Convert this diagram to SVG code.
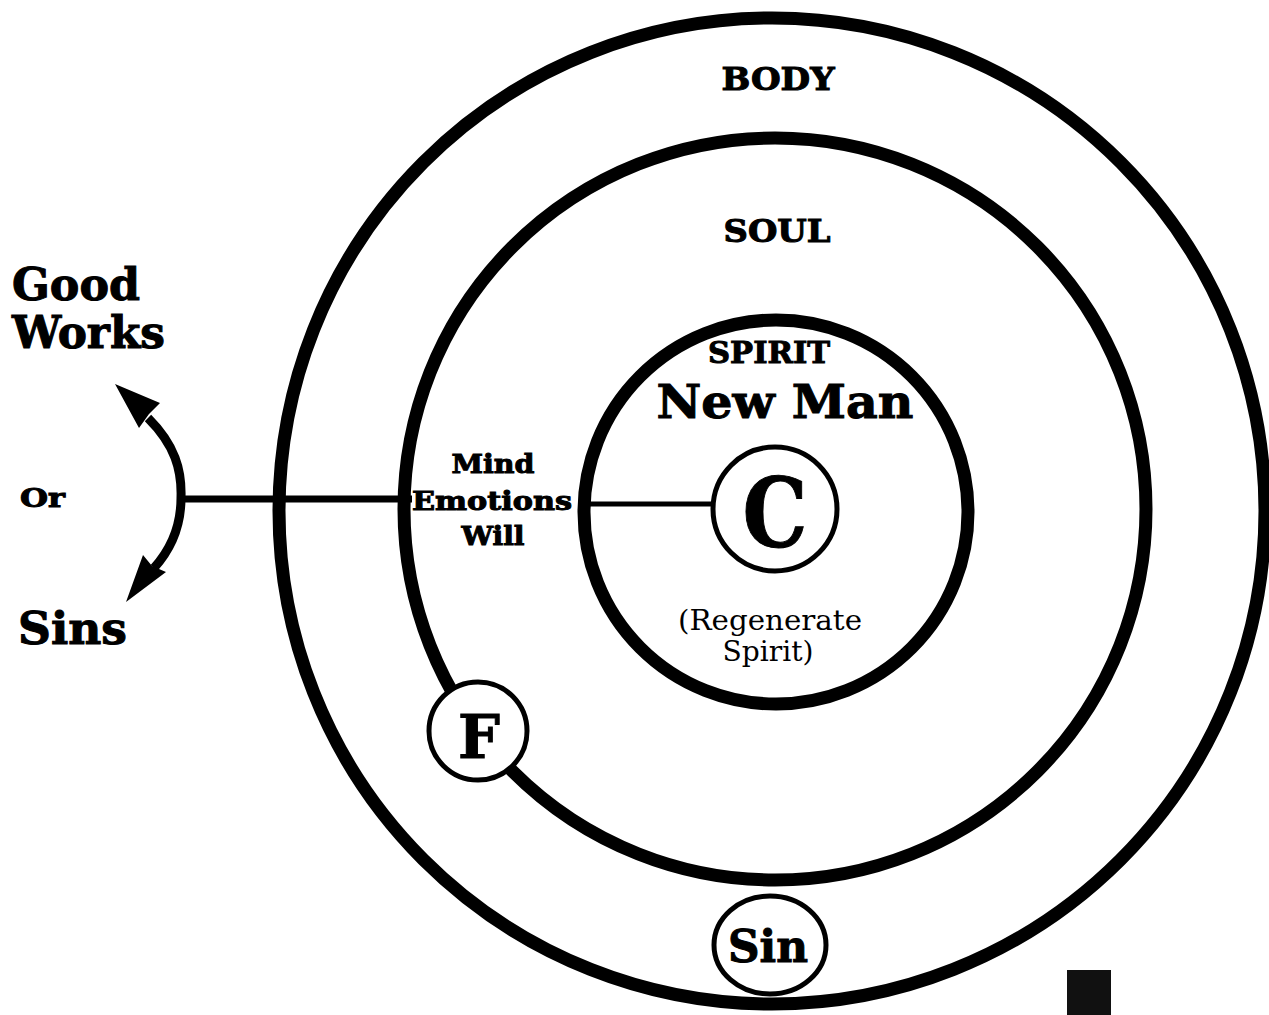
<svg xmlns="http://www.w3.org/2000/svg" width="1269" height="1015" viewBox="0 0 1269 1015">
<style>
.ring{fill:none;stroke:#000;stroke-width:13}
.node{fill:#fff;stroke:#000;stroke-width:5}
.conn{fill:none;stroke:#000}
.b{font-family:"DejaVu Serif","Liberation Serif",serif;font-weight:bold;fill:#000;stroke:#000;stroke-width:1}
.r{font-family:"DejaVu Serif","Liberation Serif",serif;font-weight:normal;fill:#000}
</style>
<rect width="1269" height="1015" fill="#fff"/>
<g id="body">
<circle class="ring" cx="772" cy="511" r="493"/>
<text class="b" x="778" y="90" font-size="31" text-anchor="middle" textLength="113" lengthAdjust="spacingAndGlyphs">BODY</text>
</g>
<g id="soul">
<circle class="ring" cx="775" cy="509" r="371"/>
<text class="b" x="777" y="242" font-size="31" text-anchor="middle" textLength="107" lengthAdjust="spacingAndGlyphs">SOUL</text>
<text class="b" x="493" y="473" font-size="26" text-anchor="middle" textLength="83" lengthAdjust="spacingAndGlyphs">Mind</text>
<text class="b" x="492" y="510" font-size="26" text-anchor="middle" textLength="160" lengthAdjust="spacingAndGlyphs">Emotions</text>
<text class="b" x="493" y="545" font-size="26" text-anchor="middle" textLength="63" lengthAdjust="spacingAndGlyphs">Will</text>
</g>
<g id="spirit">
<circle class="ring" cx="776" cy="512" r="192" stroke-width="12"/>
<text class="b" x="769" y="363" font-size="30" text-anchor="middle" textLength="122" lengthAdjust="spacingAndGlyphs">SPIRIT</text>
<text class="b" x="785" y="418" font-size="46" text-anchor="middle" textLength="257" lengthAdjust="spacingAndGlyphs" stroke-width="1.6">New Man</text>
<text class="r" x="770" y="630" font-size="27" text-anchor="middle" textLength="184" lengthAdjust="spacingAndGlyphs">(Regenerate</text>
<text class="r" x="768" y="661" font-size="27" text-anchor="middle" textLength="91" lengthAdjust="spacingAndGlyphs">Spirit)</text>
</g>
<g id="connectors">
<line class="conn" x1="182" y1="499" x2="412" y2="499" stroke-width="7"/>
<line class="conn" x1="586" y1="504" x2="714" y2="504" stroke-width="5"/>
<path class="conn" d="M148,418 C175,445 182,470 181,498 C181,525 172,548 154,568" stroke-width="9"/>
<polygon points="115,384 160,403 149,414 139,428" fill="#000"/>
<polygon points="126,602 143,555 152,566 166,572" fill="#000"/>
</g>
<g id="choice-labels">
<text class="b" x="12" y="300" font-size="44" textLength="128" lengthAdjust="spacingAndGlyphs" stroke-width="1.6">Good</text>
<text class="b" x="12" y="348" font-size="44" textLength="153" lengthAdjust="spacingAndGlyphs" stroke-width="1.6">Works</text>
<text class="b" x="20" y="507" font-size="26" textLength="45" lengthAdjust="spacingAndGlyphs">Or</text>
<text class="b" x="18" y="644" font-size="44" textLength="109" lengthAdjust="spacingAndGlyphs" stroke-width="1.6">Sins</text>
</g>
<g id="christ">
<circle class="node" cx="775" cy="509" r="62"/>
<text class="b" x="775" y="547" font-size="96" text-anchor="middle" textLength="65" lengthAdjust="spacingAndGlyphs" stroke-width="3">C</text>
</g>
<g id="flesh">
<circle class="node" cx="478" cy="731" r="49"/>
<text class="b" x="479" y="758" font-size="60" text-anchor="middle" textLength="42" lengthAdjust="spacingAndGlyphs" stroke-width="2">F</text>
</g>
<g id="sin">
<ellipse class="node" cx="770" cy="945" rx="56" ry="49" stroke-width="4.5"/>
<text class="b" x="768" y="962" font-size="44" text-anchor="middle" textLength="80" lengthAdjust="spacingAndGlyphs" stroke-width="1.6">Sin</text>
</g>
<rect x="1067" y="970" width="44" height="45" fill="#111"/>
</svg>
